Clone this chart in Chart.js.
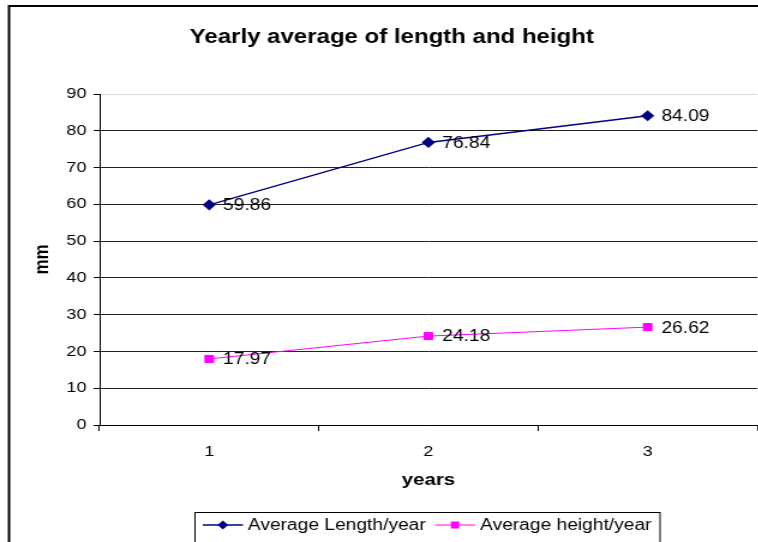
<!DOCTYPE html>
<html lang="en">
<head>
  <meta charset="UTF-8">
  <title>Yearly average of length and height</title>
  <script src="https://cdn.jsdelivr.net/npm/chart.js"></script>
  <style>
    html, body { margin: 0; padding: 0; overflow: hidden; background: #fff; }
    /* the reference picture is stretched sideways, so the canvas is too */
    #wrap { width: 632px; height: 542px; transform: scaleX(1.2); transform-origin: 0 0; }
  </style>
</head>
<body>
  <div id="wrap">
    <canvas id="yearChart" width="632" height="542"></canvas>
  </div>

  <script>
    // data
    const years = ['1', '2', '3'];
    const avgLength = [59.86, 76.84, 84.09];
    const avgHeight = [17.97, 24.18, 26.62];
    const seriesNames = ['Average Length/year', 'Average height/year'];
    const chartTitle = 'Yearly average of length and height';

    const FONT = '"Liberation Sans", Arial, sans-serif';

    // value labels to the right of each point
    const valueLabels = {
      id: 'valueLabels',
      afterDatasetsDraw(chart) {
        const ctx = chart.ctx;
        ctx.save();
        ctx.font = '16px ' + FONT;
        ctx.fillStyle = '#000';
        ctx.textAlign = 'left';
        ctx.textBaseline = 'middle';
        chart.data.datasets.forEach((ds, i) => {
          chart.getDatasetMeta(i).data.forEach((pt, j) => {
            ctx.fillText(ds.data[j].toFixed(2), pt.x + 11.5, pt.y + 1);
          });
        });
        ctx.restore();
      }
    };

    // outer frame, title and excel-style legend box
    const frameAndLegend = {
      id: 'frameAndLegend',
      afterDraw(chart) {
        const ctx = chart.ctx;
        ctx.save();
        ctx.strokeStyle = '#000';
        ctx.lineWidth = 2;
        ctx.strokeRect(7.5, 6, 640, 545);

        ctx.fillStyle = '#000';
        ctx.font = 'bold 20px ' + FONT;
        ctx.textAlign = 'center';
        ctx.textBaseline = 'middle';
        ctx.fillText(chartTitle, 326.5, 37);

        ctx.lineWidth = 1;
        ctx.strokeRect(162.5, 512.5, 387.5, 32);

        const cy = 525;
        const items = [
          { x: 169, ds: chart.data.datasets[0] },
          { x: 362.5, ds: chart.data.datasets[1] }
        ];
        ctx.font = '16px ' + FONT;
        ctx.textAlign = 'left';
        items.forEach(it => {
          const ds = it.ds;
          ctx.strokeStyle = ds.borderColor;
          ctx.lineWidth = ds.borderWidth;
          ctx.beginPath();
          ctx.moveTo(it.x, cy);
          ctx.lineTo(it.x + 33.5, cy);
          ctx.stroke();
          ctx.fillStyle = ds.pointBackgroundColor;
          const mx = it.x + 16.7;
          if (ds.pointStyle === 'rectRot') {
            ctx.beginPath();
            ctx.moveTo(mx, cy - 4.5);
            ctx.lineTo(mx + 4.5, cy);
            ctx.lineTo(mx, cy + 4.5);
            ctx.lineTo(mx - 4.5, cy);
            ctx.closePath();
            ctx.fill();
          } else {
            ctx.fillRect(mx - 3.5, cy - 3.5, 7, 7);
          }
          ctx.fillStyle = '#000';
          ctx.fillText(ds.label, it.x + 37.5, cy + 1);
        });
        ctx.restore();
      }
    };

    const ctx = document.getElementById('yearChart').getContext('2d');

    new Chart(ctx, {
      type: 'line',
      data: {
        labels: years,
        datasets: [{
          label: seriesNames[0],
          data: avgLength,
          borderColor: '#000080',
          backgroundColor: '#000080',
          pointBackgroundColor: '#000080',
          pointBorderColor: '#000080',
          borderWidth: 1.5,
          pointStyle: 'rectRot',
          pointRadius: 4.5,
          tension: 0,
          fill: false
        }, {
          label: seriesNames[1],
          data: avgHeight,
          borderColor: '#FF00FF',
          backgroundColor: '#FF00FF',
          pointBackgroundColor: '#FF00FF',
          pointBorderColor: '#FF00FF',
          borderWidth: 1,
          pointStyle: 'rect',
          pointRadius: 5,
          tension: 0,
          fill: false
        }]
      },
      options: {
        responsive: false,
        animation: false,
        layout: {
          autoPadding: false,
          padding: { left: 8, right: 1, top: 94, bottom: 50 }
        },
        plugins: {
          legend: { display: false },
          tooltip: { enabled: false },
          title: { display: false }
        },
        scales: {
          x: {
            offset: true,
            afterFit(s) {
              s.height = 67;
              s.paddingLeft = 0;
              s.paddingRight = 0;
            },
            grid: {
              offset: true,
              drawOnChartArea: false,
              drawTicks: true,
              tickLength: 6,
              color: '#000'
            },
            border: { display: true, color: '#000', width: 1 },
            ticks: {
              color: '#000',
              padding: 12,
              font: { family: FONT, size: 15 }
            },
            title: {
              display: true,
              text: 'years',
              color: '#000',
              font: { family: FONT, size: 17, weight: 'bold' },
              padding: { top: 0, bottom: 1.5 }
            }
          },
          y: {
            min: 0,
            max: 90,
            afterFit(s) { s.width = 75; },
            grid: {
              color: c => (c.tick && c.tick.value === 90) ? '#d9d9d9' : '#222',
              tickColor: '#000',
              tickLength: 5
            },
            border: { display: true, color: '#000', width: 1 },
            ticks: {
              stepSize: 10,
              color: '#000',
              padding: 6,
              font: { family: FONT, size: 15 }
            },
            title: {
              display: true,
              text: 'mm',
              color: '#000',
              font: { family: FONT, size: 17, weight: 'bold' },
              padding: { top: 17, bottom: 0 }
            }
          }
        }
      },
      plugins: [valueLabels, frameAndLegend]
    });
  </script>
</body>
</html>
